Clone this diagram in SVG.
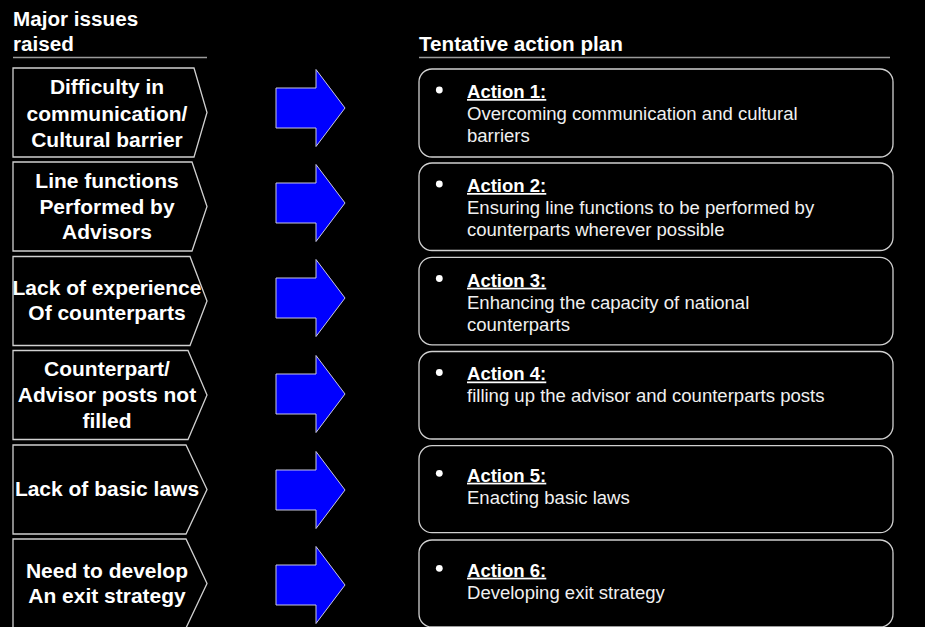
<svg xmlns="http://www.w3.org/2000/svg" width="925" height="627" viewBox="0 0 925 627">
<style>
text{font-family:"Liberation Sans",Arial,sans-serif;fill:#fff}
.hd{font-weight:bold;font-size:19.5px}
.ch{font-weight:bold;font-size:19.8px;text-anchor:middle}
.at{font-weight:bold;font-size:17.5px;text-decoration:underline}
.bd{font-size:17.5px;fill:#f0f0f0}
.chev{fill:#000;stroke:#d0d0d0;stroke-width:1.3}
.box{fill:#000;stroke:#d0d0d0;stroke-width:1.3}
.arr{fill:#0000ff;stroke:#c8c8e0;stroke-width:1}
.rule{stroke:#9a9a9a;stroke-width:1.6}
.dot{fill:#fff}
</style>
<rect x="0" y="0" width="925" height="627" fill="#000"/>

<g id="header-left">
<text class="hd" transform="scale(1.06 1)" x="12.26" y="26">Major issues</text>
<text class="hd" transform="scale(1.06 1)" x="12.26" y="51">raised</text>
<line class="rule" x1="13" y1="57.5" x2="207" y2="57.5"/>
</g>
<g id="header-right">
<text class="hd" transform="scale(1.06 1)" x="395.28" y="51">Tentative action plan</text>
<line class="rule" x1="419" y1="57.5" x2="890" y2="57.5"/>
</g>

<g id="issue1">
<polygon class="chev" points="13,68 194,68 207,112.5 194,157 13,157"/>
<text class="ch" transform="scale(1.06 1)" x="100.94" y="94">Difficulty in</text>
<text class="ch" transform="scale(1.06 1)" x="100.94" y="121">communication/</text>
<text class="ch" transform="scale(1.06 1)" x="100.94" y="147">Cultural barrier</text>
</g>
<g id="issue2">
<polygon class="chev" points="13,162 192,162 207,206.5 192,251 13,251"/>
<text class="ch" transform="scale(1.06 1)" x="100.94" y="188">Line functions</text>
<text class="ch" transform="scale(1.06 1)" x="100.94" y="214">Performed by</text>
<text class="ch" transform="scale(1.06 1)" x="100.94" y="239.5">Advisors</text>
</g>
<g id="issue3">
<polygon class="chev" points="13,256.5 190,256.5 207,301 190,345.5 13,345.5"/>
<text class="ch" transform="scale(1.06 1)" x="100.94" y="295">Lack of experience</text>
<text class="ch" transform="scale(1.06 1)" x="100.94" y="320.5">Of counterparts</text>
</g>
<g id="issue4">
<polygon class="chev" points="13,350.5 188,350.5 207,395 188,439.5 13,439.5"/>
<text class="ch" transform="scale(1.06 1)" x="100.94" y="376">Counterpart/</text>
<text class="ch" transform="scale(1.06 1)" x="100.94" y="402.5">Advisor posts not</text>
<text class="ch" transform="scale(1.06 1)" x="100.94" y="428">filled</text>
</g>
<g id="issue5">
<polygon class="chev" points="13,445 186,445 207,489.5 186,534 13,534"/>
<text class="ch" transform="scale(1.06 1)" x="100.94" y="496">Lack of basic laws</text>
</g>
<g id="issue6">
<polygon class="chev" points="13,539 186,539 207,583.5 186,628 13,628"/>
<text class="ch" transform="scale(1.06 1)" x="100.94" y="578.5">Need to develop</text>
<text class="ch" transform="scale(1.06 1)" x="100.94" y="603.5">An exit strategy</text>
</g>

<g id="connectors">
<polygon class="arr" points="276,88 316,88 316,69.5 345,108 316,146.5 316,128 276,128"/>
<polygon class="arr" points="276,183 316,183 316,164.5 345,203 316,241.5 316,223 276,223"/>
<polygon class="arr" points="276,278 316,278 316,259.5 345,298 316,336.5 316,318 276,318"/>
<polygon class="arr" points="276,374 316,374 316,355.5 345,394 316,432.5 316,414 276,414"/>
<polygon class="arr" points="276,470 316,470 316,451.5 345,490 316,528.5 316,510 276,510"/>
<polygon class="arr" points="276,565 316,565 316,546.5 345,585 316,623.5 316,605 276,605"/>
</g>

<g id="action1">
<rect class="box" x="419" y="69" width="474" height="88" rx="13"/>
<circle class="dot" cx="439.3" cy="90" r="3.4"/>
<text class="at" transform="scale(1.06 1)" x="440.57" y="98">Action 1:</text>
<text class="bd" transform="scale(1.06 1)" x="440.57" y="120">Overcoming communication and cultural</text>
<text class="bd" transform="scale(1.06 1)" x="440.57" y="142">barriers</text>
</g>
<g id="action2">
<rect class="box" x="419" y="163" width="474" height="87.5" rx="13"/>
<circle class="dot" cx="439.3" cy="184" r="3.4"/>
<text class="at" transform="scale(1.06 1)" x="440.57" y="192">Action 2:</text>
<text class="bd" transform="scale(1.06 1)" x="440.57" y="214">Ensuring line functions to be performed by</text>
<text class="bd" transform="scale(1.06 1)" x="440.57" y="236">counterparts wherever possible</text>
</g>
<g id="action3">
<rect class="box" x="419" y="257.3" width="474" height="87.5" rx="13"/>
<circle class="dot" cx="439.3" cy="278.5" r="3.4"/>
<text class="at" transform="scale(1.06 1)" x="440.57" y="286.7">Action 3:</text>
<text class="bd" transform="scale(1.06 1)" x="440.57" y="309">Enhancing the capacity of national</text>
<text class="bd" transform="scale(1.06 1)" x="440.57" y="331">counterparts</text>
</g>
<g id="action4">
<rect class="box" x="419" y="351.5" width="474" height="87.5" rx="13"/>
<circle class="dot" cx="439.3" cy="372.5" r="3.4"/>
<text class="at" transform="scale(1.06 1)" x="440.57" y="380.5">Action 4:</text>
<text class="bd" transform="scale(1.06 1)" x="440.57" y="402.5">filling up the advisor and counterparts posts</text>
</g>
<g id="action5">
<rect class="box" x="419" y="445.7" width="474" height="87" rx="13"/>
<circle class="dot" cx="439.3" cy="473.3" r="3.4"/>
<text class="at" transform="scale(1.06 1)" x="440.57" y="481.7">Action 5:</text>
<text class="bd" transform="scale(1.06 1)" x="440.57" y="504">Enacting basic laws</text>
</g>
<g id="action6">
<rect class="box" x="419" y="540" width="474" height="87" rx="13"/>
<circle class="dot" cx="439.3" cy="568.3" r="3.4"/>
<text class="at" transform="scale(1.06 1)" x="440.57" y="576.7">Action 6:</text>
<text class="bd" transform="scale(1.06 1)" x="440.57" y="598.7">Developing exit strategy</text>
</g>
</svg>
